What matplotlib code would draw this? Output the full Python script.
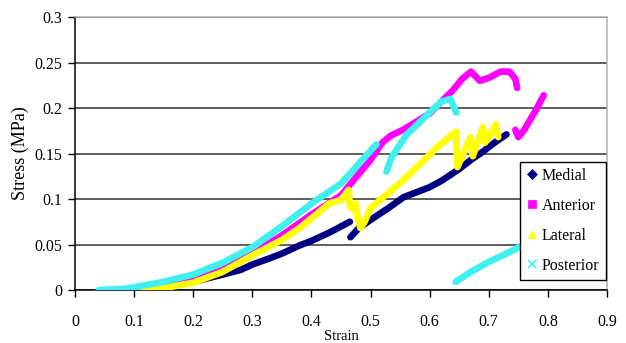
import matplotlib.pyplot as plt
import numpy as np
from matplotlib.lines import Line2D

nan = np.nan

# values (nan splits a series into pieces)
medial_x = [0.065, 0.1, 0.15, 0.2, 0.25, 0.28, 0.3, 0.33, 0.35, 0.38, 0.4, 0.43, 0.465,
            nan, 0.466, 0.48, 0.5, 0.53, 0.556, 0.58, 0.6, 0.62, 0.65, 0.67, 0.69, 0.71, 0.73]
medial_y = [0.0, 0.001, 0.004, 0.009, 0.017, 0.022, 0.028, 0.035, 0.04, 0.049, 0.054, 0.063, 0.075,
            nan, 0.058, 0.068, 0.077, 0.09, 0.102, 0.108, 0.113, 0.12, 0.133, 0.143, 0.152, 0.162, 0.171]

anterior_x = [0.1, 0.15, 0.2, 0.25, 0.3, 0.35, 0.4, 0.45, 0.5, 0.52, 0.535, 0.555, 0.6, 0.64, 0.655,
              0.67, 0.685, 0.7, 0.72, 0.735, 0.745, 0.748,
              nan, 0.745, 0.75, 0.76, 0.78, 0.793]
anterior_y = [0.0, 0.004, 0.011, 0.022, 0.04, 0.06, 0.083, 0.104, 0.143, 0.162, 0.17, 0.176, 0.194, 0.22, 0.232,
              0.24, 0.23, 0.233, 0.24, 0.24, 0.232, 0.222,
              nan, 0.176, 0.168, 0.176, 0.198, 0.214]

lateral_x = [0.115, 0.15, 0.2, 0.25, 0.3, 0.35, 0.38, 0.41, 0.43, 0.45, 0.463, 0.465, 0.472, 0.475,
             0.478, 0.483, 0.49, 0.5, 0.556, 0.613, 0.644, 0.647, 0.669, 0.673, 0.69, 0.694, 0.712, 0.716]
lateral_y = [0.0, 0.002, 0.008, 0.02, 0.038, 0.055, 0.068, 0.084, 0.095, 0.099, 0.11, 0.092, 0.088, 0.095,
             0.08, 0.068, 0.075, 0.09, 0.121, 0.157, 0.174, 0.135, 0.168, 0.147, 0.179, 0.162, 0.182, 0.168]

posterior_x = [0.04, 0.08, 0.1, 0.15, 0.2, 0.25, 0.3, 0.35, 0.4, 0.45, 0.5, 0.51,
               nan, 0.527, 0.535, 0.545, 0.56, 0.6, 0.62, 0.635, 0.645,
               nan, 0.644, 0.67, 0.7, 0.73, 0.76]
posterior_y = [0.0, 0.001, 0.003, 0.009, 0.017, 0.03, 0.047, 0.07, 0.095, 0.117, 0.153, 0.16,
               nan, 0.13, 0.145, 0.155, 0.17, 0.195, 0.207, 0.21, 0.195,
               nan, 0.009, 0.02, 0.031, 0.04, 0.05]

series = [
    ("Medial", medial_x, medial_y, "#000080", "D"),
    ("Anterior", anterior_x, anterior_y, "#FF00FF", "s"),
    ("Lateral", lateral_x, lateral_y, "#FFFF00", "^"),
    ("Posterior", posterior_x, posterior_y, "#40F0F0", "x"),
]

plt.rcParams['font.family'] = ['Liberation Serif', 'DejaVu Serif']

fig = plt.figure(figsize=(6.26, 3.43), dpi=100)
ax = fig.add_axes([0.1198, 0.1545, 0.8498, 0.7959])

handles = []
for name, xs, ys, col, mk in series:
    ax.plot(xs, ys, color=col, lw=4.8, solid_capstyle="round", solid_joinstyle="round", zorder=3)
    handles.append(Line2D([], [], ls="none", marker=mk, color=col, markersize=5.5,
                          markeredgewidth=1.2 if mk == "x" else 0.5))

ax.set_xlim(0, 0.9)
ax.set_ylim(0, 0.3)
ax.set_xticks(np.arange(0, 0.91, 0.1))
ax.set_xticklabels(["0", "0.1", "0.2", "0.3", "0.4", "0.5", "0.6", "0.7", "0.8", "0.9"])
ax.set_yticks(np.arange(0, 0.31, 0.05))
ax.set_yticklabels(["0", "0.05", "0.1", "0.15", "0.2", "0.25", "0.3"])
ax.tick_params(labelsize=11.5, length=5, width=1, direction="out")
ax.tick_params(axis="x", pad=12)
ax.tick_params(axis="y", pad=4)
ax.yaxis.grid(True, color="#505050", lw=1.3, zorder=1)
ax.set_axisbelow(True)

ax.spines["left"].set_color("black")
ax.spines["bottom"].set_color("black")
ax.spines["top"].set_color("#b0b0b0")
ax.spines["right"].set_color("#b0b0b0")
for s in ax.spines.values():
    s.set_linewidth(1.1)

ax.set_xlabel("Strain", fontsize=10.5, labelpad=0)
ax.set_ylabel("Stress (MPa)", fontsize=13, labelpad=4)

leg = ax.legend(handles, [s[0] for s in series], loc="lower left",
                bbox_to_anchor=(0.837, 0.035), fontsize=11.5, frameon=True,
                fancybox=False, edgecolor="black", framealpha=1,
                handlelength=0.7, handletextpad=0.25, labelspacing=0.88,
                borderpad=0.4, borderaxespad=0)
leg.get_frame().set_linewidth(1.0)
leg.set_zorder(5)

fig.savefig("out.png", dpi=100)
